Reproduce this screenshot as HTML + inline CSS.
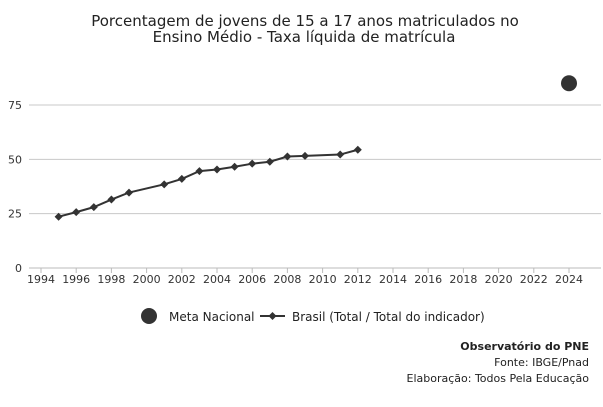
<!DOCTYPE html>
<html><head><meta charset="utf-8"><style>
body{margin:0;background:#fff;width:603px;height:402px;overflow:hidden;font-family:"Liberation Sans","DejaVu Sans",sans-serif}
</style></head><body>
<svg id="c" width="603" height="402" font-family="DejaVu Sans, Liberation Sans, sans-serif">
<text x="305" y="26" text-anchor="middle" font-size="15" fill="#222">Porcentagem de jovens de 15 a 17 anos matriculados no</text>
<text x="304" y="42" text-anchor="middle" font-size="15" fill="#222">Ensino Médio - Taxa líquida de matrícula</text>
<g id="grid"></g><g id="series"></g>
<g>
<circle cx="149" cy="316" r="8" fill="#333"/>
<text x="169" y="321" font-size="12" fill="#222">Meta Nacional</text>
<line x1="260" y1="316" x2="285" y2="316" stroke="#333" stroke-width="2"/>
<path d="M272.5 312l4 4-4 4-4-4z" fill="#333"/>
<text x="292" y="321" font-size="12" fill="#222">Brasil (Total / Total do indicador)</text>
</g>
<text x="589" y="350" text-anchor="end" font-size="11" font-weight="bold" fill="#222">Observatório do PNE</text>
<text x="589" y="366" text-anchor="end" font-size="11" fill="#222">Fonte: IBGE/Pnad</text>
<text x="589" y="382" text-anchor="end" font-size="11" fill="#222">Elaboração: Todos Pela Educação</text>
</svg>
<script>
const years=[1995,1996,1997,1998,1999,2001,2002,2003,2004,2005,2006,2007,2008,2009,2011,2012];
const values=[23.6,25.7,28,31.5,34.7,38.5,41,44.6,45.3,46.6,48,48.9,51.3,51.6,52.2,54.4];
const metaYear=[2024];
const metaValue=[85];
const yTicks=[0,25,50,75];
const xTicks=[1994,1996,1998,2000,2002,2004,2006,2008,2010,2012,2014,2016,2018,2020,2022,2024];
const NS="http://www.w3.org/2000/svg";
const X=y=>41+(y-1994)*(569-41)/30;
const Y=v=>268-v*(268-105)/75;
function mk(t,a,p){const e=document.createElementNS(NS,t);for(const k in a)e.setAttribute(k,a[k]);p.appendChild(e);return e;}
const g=document.getElementById('grid'),s=document.getElementById('series');
yTicks.forEach(v=>{
 const l=mk('line',{x1:29,x2:601,y1:Y(v),y2:Y(v),stroke:v?'#c8c8c8':'#bbb','stroke-width':1},g);
 
 
 const t=mk('text',{x:22,y:Y(v)+4,'text-anchor':'end','font-size':11,fill:'#333'},g);t.textContent=v;
 
 
});
xTicks.forEach(y=>{
 const l=mk('line',{x1:X(y),x2:X(y),y1:268,y2:273,stroke:'#bbb'},g);
 
 
 const t=mk('text',{x:X(y),y:283,'text-anchor':'middle','font-size':11,fill:'#333'},g);t.textContent=y;
 
 
});
const pl=mk('polyline',{points:years.map((y,i)=>X(y)+','+Y(values[i])).join(' '),fill:'none',stroke:'#333','stroke-width':2},s);


years.forEach((y,i)=>{
 const x=X(y),yy=Y(values[i]);
 const p=mk('path',{d:`M${x} ${yy-4}l4 4-4 4-4-4z`,fill:'#333'},s);
 
 
});
metaYear.forEach((y,i)=>{
 const c=mk('circle',{cx:X(y),cy:Y(metaValue[i]),r:8,fill:'#333'},s);
 
 
});
</script>
</body></html>
